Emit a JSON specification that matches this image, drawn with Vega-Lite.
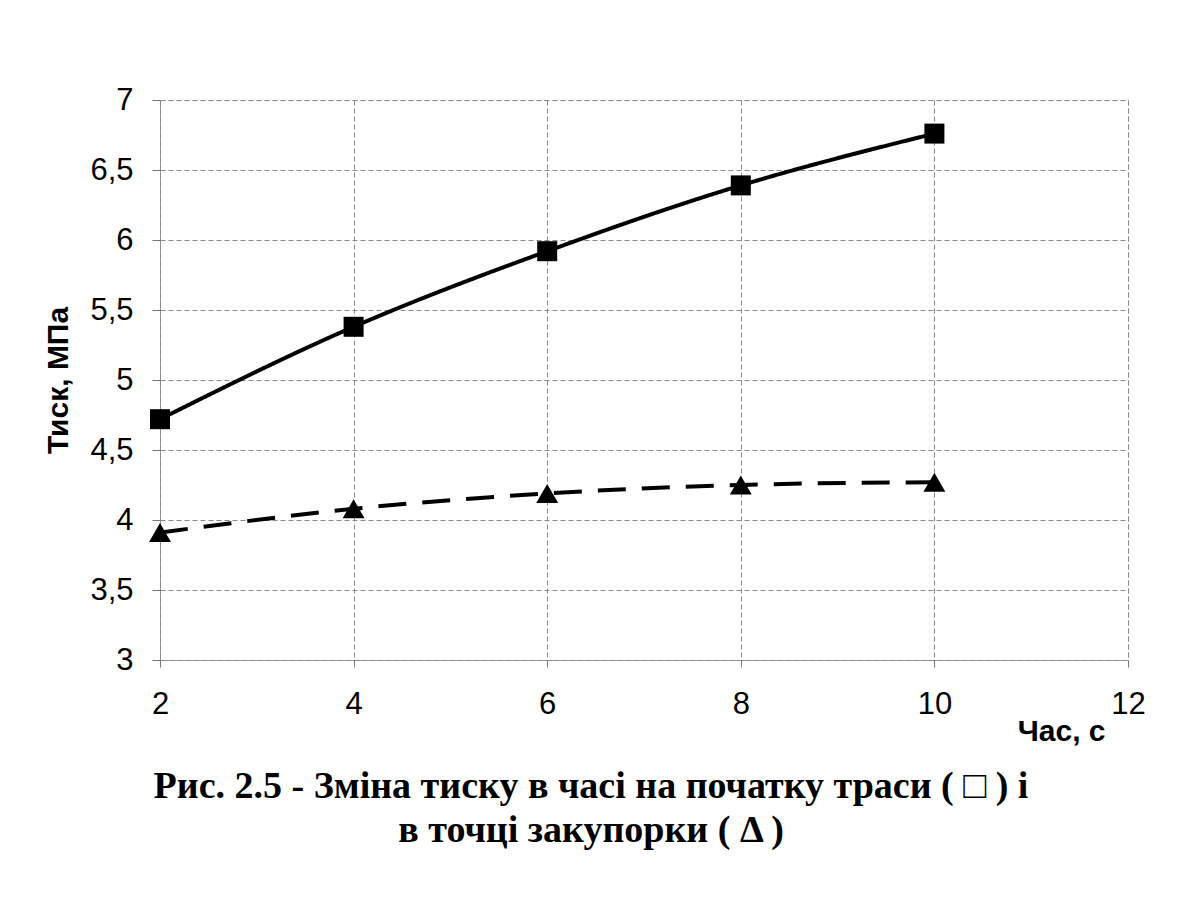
{
  "$schema": "https://vega.github.io/schema/vega-lite/v6.json",
  "width": 968,
  "height": 560,
  "autosize": {"type": "none"},
  "padding": {"left": 160, "top": 100, "right": 51, "bottom": 246},
  "background": "white",
  "config": {
    "view": {"stroke": "#8a8a8a", "strokeDash": [5, 3], "strokeWidth": 1},
    "axis": {
      "labelFont": "Liberation Sans",
      "labelFontSize": 31,
      "labelColor": "black",
      "titleFont": "Liberation Sans",
      "titleFontSize": 30,
      "titleFontWeight": "bold",
      "titleColor": "black",
      "grid": true,
      "gridColor": "#8a8a8a",
      "gridDash": [5, 3],
      "gridWidth": 1,
      "domain": false,
      "tickColor": "#777777",
      "tickWidth": 1
    }
  },
  "title": {
    "text": ["Рис. 2.5 - Зміна тиску в часі на початку траси ( □ )  і", "в точці закупорки ( Δ )"],
    "orient": "bottom",
    "anchor": "middle",
    "font": "Liberation Serif",
    "fontSize": 38,
    "fontWeight": "bold",
    "color": "black",
    "lineHeight": 44,
    "offset": 22,
    "dx": -53
  },
  "data": {
    "values": [
      {"t": 2, "p": 4.72, "series": "start"},
      {"t": 4, "p": 5.38, "series": "start"},
      {"t": 6, "p": 5.92, "series": "start"},
      {"t": 8, "p": 6.39, "series": "start"},
      {"t": 10, "p": 6.76, "series": "start"},
      {"t": 2, "p": 3.91, "series": "plug"},
      {"t": 4, "p": 4.08, "series": "plug"},
      {"t": 6, "p": 4.19, "series": "plug"},
      {"t": 8, "p": 4.25, "series": "plug"},
      {"t": 10, "p": 4.27, "series": "plug"}
    ]
  },
  "encoding": {
    "x": {
      "field": "t",
      "type": "quantitative",
      "scale": {"domain": [2, 12], "nice": false, "zero": false},
      "axis": {
        "title": "Час, с",
        "values": [2, 4, 6, 8, 10, 12],
        "tickSize": 7,
        "labelPadding": 22,
        "labelFlush": false,
        "titleAnchor": "end",
        "titleAlign": "right",
        "titleBaseline": "top",
        "titleX": 945,
        "titleY": 56
      }
    },
    "y": {
      "field": "p",
      "type": "quantitative",
      "scale": {"domain": [3, 7], "nice": false, "zero": false},
      "axis": {
        "title": "Тиск, МПа",
        "values": [3, 3.5, 4, 4.5, 5, 5.5, 6, 6.5, 7],
        "labelExpr": "replace(toString(datum.value), '.', ',')",
        "tickSize": 8,
        "labelPadding": 19,
        "titlePadding": 16
      }
    }
  },
  "layer": [
    {
      "mark": {"type": "line", "interpolate": "monotone", "color": "black", "strokeWidth": 4},
      "encoding": {
        "detail": {"field": "series", "type": "nominal"},
        "strokeDash": {
          "field": "series",
          "type": "nominal",
          "scale": {"domain": ["start", "plug"], "range": [[1, 0], [28, 16]]},
          "legend": null
        }
      }
    },
    {
      "mark": {"type": "point", "filled": true, "color": "black", "opacity": 1},
      "encoding": {
        "shape": {
          "field": "series",
          "type": "nominal",
          "scale": {"domain": ["start", "plug"], "range": ["square", "triangle-up"]},
          "legend": null
        },
        "size": {
          "field": "series",
          "type": "nominal",
          "scale": {"domain": ["start", "plug"], "range": [400, 480]},
          "legend": null
        }
      }
    }
  ]
}
